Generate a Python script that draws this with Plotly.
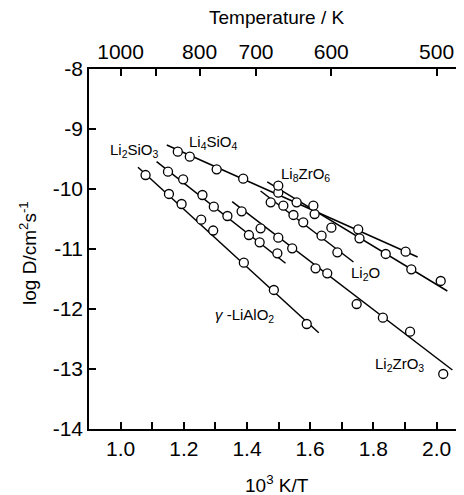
import plotly.graph_objects as go

# ---------------- data: x = 10^3 K / T, y = log D (cm^2 s^-1) ----------------
li4sio4_x = [1.181, 1.219, 1.304, 1.388, 1.499, 1.557, 1.614, 1.752, 1.902]
li4sio4_y = [-9.378, -9.462, -9.672, -9.828, -10.062, -10.222, -10.417, -10.672, -11.045]
li4sio4_fit_x = [1.146, 1.940]
li4sio4_fit_y = [-9.267, -11.133]

li8zro6_x = [1.499, 1.610, 1.667, 1.756, 1.839, 1.920, 2.013]
li8zro6_y = [-9.945, -10.278, -10.645, -10.822, -11.083, -11.338, -11.533]
li8zro6_fit_x = [1.464, 2.034]
li8zro6_fit_y = [-9.883, -11.700]

li2o_x = [1.475, 1.515, 1.547, 1.578, 1.636, 1.686]
li2o_y = [-10.222, -10.278, -10.433, -10.555, -10.778, -11.055]
li2o_fit_x = [1.443, 1.737]
li2o_fit_y = [-10.033, -11.217]

lialo2_x = [1.079, 1.153, 1.193, 1.255, 1.293, 1.390, 1.485, 1.589]
lialo2_y = [-9.767, -10.083, -10.250, -10.512, -10.692, -11.228, -11.683, -12.250]
lialo2_fit_x = [1.055, 1.627]
lialo2_fit_y = [-9.638, -12.395]

li2sio3_x = [1.150, 1.198, 1.259, 1.295, 1.338, 1.406, 1.440, 1.496]
li2sio3_y = [-9.712, -9.838, -10.100, -10.295, -10.450, -10.767, -10.888, -11.072]
li2sio3_fit_x = [1.114, 1.522]
li2sio3_fit_y = [-9.545, -11.238]

li2zro3_x = [1.383, 1.443, 1.499, 1.543, 1.617, 1.654, 1.747, 1.830, 1.916, 2.021]
li2zro3_y = [-10.372, -10.655, -10.812, -10.988, -11.322, -11.405, -11.917, -12.145, -12.378, -13.083]
li2zro3_fit_x = [1.353, 2.050]
li2zro3_fit_y = [-10.212, -13.017]

bottom_tick_vals = [1.0, 1.2, 1.4, 1.6, 1.8, 2.0]
bottom_tick_text = ["1.0", "1.2", "1.4", "1.6", "1.8", "2.0"]
bottom_minor_vals = [1.1, 1.3, 1.5, 1.7, 1.9]
left_tick_vals = [-8, -9, -10, -11, -12, -13, -14]
left_tick_text = ["-8", "-9", "-10", "-11", "-12", "-13", "-14"]
top_temps = [1000, 900, 800, 700, 600, 500]
top_temp_text = ["1000", " ", "800", "700", "600", "500"]

series = [
    ("Li<sub>4</sub>SiO<sub>4</sub>", li4sio4_x, li4sio4_y, li4sio4_fit_x, li4sio4_fit_y),
    ("Li<sub>8</sub>ZrO<sub>6</sub>", li8zro6_x, li8zro6_y, li8zro6_fit_x, li8zro6_fit_y),
    ("Li<sub>2</sub>O", li2o_x, li2o_y, li2o_fit_x, li2o_fit_y),
    ("γ-LiAlO<sub>2</sub>", lialo2_x, lialo2_y, lialo2_fit_x, lialo2_fit_y),
    ("Li<sub>2</sub>SiO<sub>3</sub>", li2sio3_x, li2sio3_y, li2sio3_fit_x, li2sio3_fit_y),
    ("Li<sub>2</sub>ZrO<sub>3</sub>", li2zro3_x, li2zro3_y, li2zro3_fit_x, li2zro3_fit_y),
]

FONT = "Liberation Sans, Arial, Helvetica, sans-serif"
# the page body has an 8 px margin: the figure is sized / offset to fit the window
X_RANGE = [0.9, 0.9 + 375 / 316]
Y_RANGE = [-14, -8]

fig = go.Figure()
for name, xs, ys, fx, fy in series:
    fig.add_trace(go.Scatter(x=fx, y=fy, mode="lines", name=name,
                             line=dict(color="black", width=1.5),
                             showlegend=False, hoverinfo="skip"))
for name, xs, ys, fx, fy in series:
    fig.add_trace(go.Scatter(x=xs, y=ys, mode="markers", name=name,
                             marker=dict(symbol="circle", size=9, color="white",
                                         line=dict(color="black", width=1.3)),
                             showlegend=False))

# invisible trace to materialise the top / right axes
fig.add_trace(go.Scatter(x=[1.5], y=[-11], xaxis="x2", yaxis="y2",
                         mode="markers", marker=dict(opacity=0),
                         showlegend=False, hoverinfo="skip"))

labels = [
    ("Li<sub>2</sub>SiO<sub>3</sub>", 1.043, -9.35),
    ("Li<sub>4</sub>SiO<sub>4</sub>", 1.293, -9.233),
    ("Li<sub>8</sub>ZrO<sub>6</sub>", 1.585, -9.75),
    ("Li<sub>2</sub>O", 1.775, -11.40),
    ("<i>γ</i> -LiAlO<sub>2</sub>", 1.392, -12.10),
    ("Li<sub>2</sub>ZrO<sub>3</sub>", 1.883, -12.917),
]
annotations = [dict(text=t, x=x, y=y, xref="x", yref="y", showarrow=False,
                    font=dict(size=15, color="black", family=FONT))
               for t, x, y in labels]
annotations += [
    dict(text="Temperature / K", x=0.5, y=1, xref="paper", yref="paper",
         yshift=52, showarrow=False, yanchor="middle",
         font=dict(size=19, color="black", family=FONT)),
    dict(text="10<sup>3</sup> K/T", x=0.5, y=0, xref="paper", yref="paper",
         yshift=-55, showarrow=False, yanchor="middle",
         font=dict(size=19, color="black", family=FONT)),
    dict(text="log D/cm<sup>2</sup>s<sup>-1</sup>", x=0, y=0.489, xref="paper",
         yref="paper", xshift=-61, showarrow=False, textangle=-90,
         xanchor="center", yanchor="middle",
         font=dict(size=19, color="black", family=FONT)),
]

axis_common = dict(ticks="inside", ticklen=7, tickwidth=1.5, tickcolor="black",
                   showgrid=False, zeroline=False,
                   tickfont=dict(size=21, color="black", family=FONT))

fig.update_layout(
    width=456, height=487,
    margin=dict(l=81, r=0, t=61, b=66, autoexpand=False),
    paper_bgcolor="white", plot_bgcolor="white",
    font=dict(family=FONT, color="black"),
    annotations=annotations,
    xaxis=dict(range=X_RANGE, tickvals=bottom_tick_vals, ticktext=bottom_tick_text,
               showline=True, linecolor="black", linewidth=1.5,
               minor=dict(tickvals=bottom_minor_vals, ticks="inside", ticklen=7,
                          tickwidth=1.5, tickcolor="black", showgrid=False),
               **axis_common),
    yaxis=dict(range=Y_RANGE, tickvals=left_tick_vals, ticktext=left_tick_text,
               showline=True, linecolor="black", linewidth=1.5, **axis_common),
    xaxis2=dict(range=X_RANGE, overlaying="x", side="top", anchor="y",
                tickvals=[1000 / t for t in top_temps], ticktext=top_temp_text,
                showline=True, linecolor="black", linewidth=1.5, **axis_common),
    yaxis2=dict(range=Y_RANGE, overlaying="y", side="right", anchor="x",
                tickvals=left_tick_vals, showticklabels=False,
                showline=False, **axis_common),
)

fig.write_html("out.html")
